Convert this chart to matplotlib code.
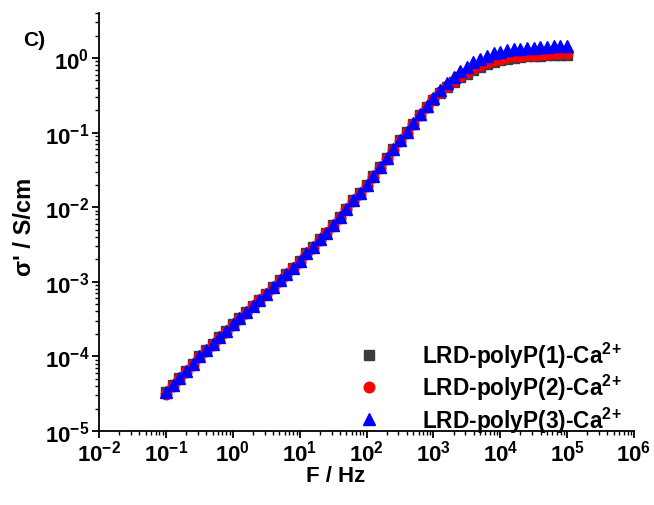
import math
import matplotlib
matplotlib.use("Agg")
import matplotlib.pyplot as plt
from matplotlib.ticker import LogLocator, FuncFormatter, NullFormatter

plt.rcParams['font.family'] = ['Liberation Sans', 'DejaVu Sans']
plt.rcParams['font.weight'] = 'bold'
plt.rcParams['mathtext.fontset'] = 'custom'
plt.rcParams['mathtext.rm'] = 'Liberation Sans:bold'
plt.rcParams['mathtext.bf'] = 'Liberation Sans:bold'
plt.rcParams['mathtext.it'] = 'Liberation Sans:bold:italic'
plt.rcParams['mathtext.default'] = 'rm'

# Frequency grid: 10 points per decade, 0.1 Hz .. 100 kHz
freq = [0.1, 0.126, 0.158, 0.2, 0.251, 0.316, 0.398, 0.501, 0.631, 0.794,
        1.0, 1.26, 1.58, 2.0, 2.51, 3.16, 3.98, 5.01, 6.31, 7.94,
        10.0, 12.6, 15.8, 20.0, 25.1, 31.6, 39.8, 50.1, 63.1, 79.4,
        100.0, 126, 158, 200, 251, 316, 398, 501, 631, 794,
        1000.0, 1260, 1580, 2000, 2510, 3160, 3980, 5010, 6310, 7940,
        10000.0, 12600, 15800, 20000, 25100, 31600, 39800, 50100, 63100, 79400,
        100000.0]

# Real conductivity sigma' (S/cm)
sigma_1 = [3.31e-5, 4.17e-5, 5.13e-5, 6.46e-5, 7.94e-5, 1.00e-4, 1.23e-4, 1.48e-4, 1.82e-4, 2.19e-4,
           2.69e-4, 3.24e-4, 3.89e-4, 4.79e-4, 5.75e-4, 6.92e-4, 8.51e-4, 1.05e-3, 1.26e-3, 1.55e-3,
           1.91e-3, 2.40e-3, 2.95e-3, 3.72e-3, 4.57e-3, 5.75e-3, 7.41e-3, 9.55e-3, 1.23e-2, 1.55e-2,
           2.00e-2, 2.63e-2, 3.47e-2, 4.57e-2, 6.03e-2, 7.94e-2, 1.02e-1, 1.32e-1, 1.70e-1, 2.19e-1,
           0.275, 0.339, 0.407, 0.479, 0.550, 0.617, 0.692, 0.759, 0.832, 0.891,
           0.933, 0.977, 1.00, 1.02, 1.05, 1.06, 1.07, 1.08, 1.09, 1.09,
           1.10]

sigma_2 = [3.12e-5, 3.98e-5, 4.95e-5, 6.24e-5, 7.70e-5, 9.68e-5, 1.19e-4, 1.44e-4, 1.77e-4, 2.14e-4,
           2.63e-4, 3.16e-4, 3.80e-4, 4.68e-4, 5.62e-4, 6.76e-4, 8.32e-4, 1.02e-3, 1.23e-3, 1.51e-3,
           1.86e-3, 2.34e-3, 2.88e-3, 3.63e-3, 4.47e-3, 5.62e-3, 7.24e-3, 9.33e-3, 1.20e-2, 1.51e-2,
           1.95e-2, 2.57e-2, 3.39e-2, 4.47e-2, 5.89e-2, 7.76e-2, 1.00e-1, 1.30e-1, 1.70e-1, 2.21e-1,
           0.282, 0.347, 0.417, 0.490, 0.575, 0.646, 0.724, 0.794, 0.871, 0.933,
           0.977, 1.02, 1.05, 1.07, 1.10, 1.11, 1.12, 1.14, 1.15, 1.16,
           1.17]

sigma_3 = [3.31e-5, 4.17e-5, 5.13e-5, 6.46e-5, 7.94e-5, 1.00e-4, 1.23e-4, 1.48e-4, 1.82e-4, 2.19e-4,
           2.69e-4, 3.24e-4, 3.89e-4, 4.79e-4, 5.75e-4, 6.92e-4, 8.51e-4, 1.05e-3, 1.26e-3, 1.55e-3,
           1.91e-3, 2.40e-3, 2.95e-3, 3.72e-3, 4.57e-3, 5.75e-3, 7.41e-3, 9.55e-3, 1.23e-2, 1.55e-2,
           2.00e-2, 2.63e-2, 3.47e-2, 4.57e-2, 6.03e-2, 7.94e-2, 1.02e-1, 1.35e-1, 1.78e-1, 2.29e-1,
           0.295, 0.372, 0.457, 0.550, 0.661, 0.759, 0.871, 0.977, 1.07, 1.15,
           1.22, 1.26, 1.30, 1.33, 1.36, 1.38, 1.40, 1.41, 1.43, 1.45,
           1.46]

labels = [r"LRD-polyP(1)-Ca$^{2\!+}$", r"LRD-polyP(2)-Ca$^{2\!+}$", r"LRD-polyP(3)-Ca$^{2\!+}$"]

fig = plt.figure(figsize=(6.54, 5.06), dpi=100)
ax = fig.add_axes([0.1514, 0.1462, 0.818, 0.826])

ax.plot(freq, sigma_1, linestyle='none', marker='s', ms=6.6, color='#3c3c3c',
        mec='#3c3c3c', label=labels[0])
ax.plot(freq, sigma_2, linestyle='none', marker='o', ms=7.6, color='#ff0000',
        mec='#ff0000', label=labels[1])
ax.plot(freq, sigma_3, linestyle='none', marker='^', ms=8.2, color='#0000ff',
        mec='#0000ff', label=labels[2])

ax.set_xscale('log')
ax.set_yscale('log')
ax.set_xlim(1e-2, 1e6)
ax.set_ylim(1e-5, 4)

ax.spines['top'].set_visible(False)
ax.spines['right'].set_visible(False)
for s in ('left', 'bottom'):
    ax.spines[s].set_linewidth(1.3)

sub = [2, 3, 4, 5, 6, 7, 8, 9]
ax.xaxis.set_major_locator(LogLocator(base=10, numticks=20))
ax.xaxis.set_minor_locator(LogLocator(base=10, subs=sub, numticks=20))
ax.yaxis.set_major_locator(LogLocator(base=10, numticks=20))
ax.yaxis.set_minor_locator(LogLocator(base=10, subs=sub, numticks=20))


def decade(v, pos):
    e = int(round(math.log10(v)))
    return r"$10^{%d}$" % e


ax.xaxis.set_major_formatter(FuncFormatter(decade))
ax.yaxis.set_major_formatter(FuncFormatter(decade))
ax.xaxis.set_minor_formatter(NullFormatter())
ax.yaxis.set_minor_formatter(NullFormatter())

ax.tick_params(which='major', direction='out', length=5, width=1.3, labelsize=16)
ax.tick_params(axis='x', which='major', pad=1.0)
ax.tick_params(axis='y', which='major', pad=2)
ax.tick_params(which='minor', direction='out', length=3, width=1.0)

ax.set_xlabel("F / Hz", fontsize=16, fontweight='bold')
ax.xaxis.set_label_coords(0.443, -0.082)
ax.set_ylabel("σ' / S/cm", fontsize=17, fontweight='bold', va='center')
ax.yaxis.set_label_coords(-0.14, 0.49)

fig.text(0.036, 0.92, "C)", fontsize=15, fontweight='bold', ha='left', va='center')

leg = ax.legend(loc='lower right', frameon=False, fontsize=16.3, handletextpad=1.85,
                labelspacing=0.1, borderaxespad=0.0, handlelength=1.0,
                bbox_to_anchor=(0.995, -0.03))

fig.savefig("out.png", dpi=100)
